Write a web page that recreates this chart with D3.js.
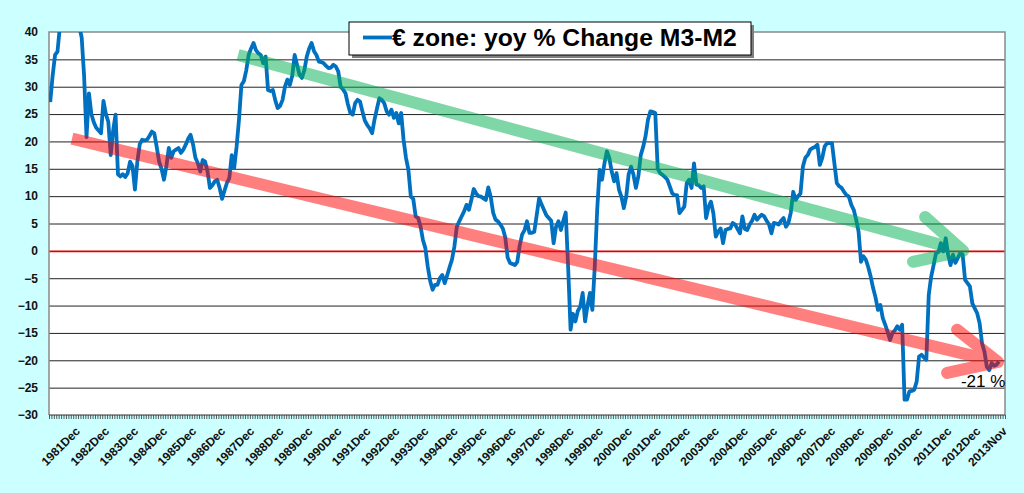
<!DOCTYPE html>
<html><head><meta charset="utf-8">
<script src="https://cdn.jsdelivr.net/npm/d3@7"></script>
<style>html,body{margin:0;padding:0;background:#ccffff;} svg{display:block;}</style>
</head><body>
<svg id="c" width="1024" height="493"></svg>
<script>
// ---------- DATA ----------
const monthNames = ["Jan","Feb","Mar","Apr","May","Jun","Jul","Aug","Sep","Oct","Nov","Dec"];
const firstYear = 1981, lastYear = 2013, lastMonth = 11; // 2013Nov
const categories = [];
for (let yy = firstYear; yy <= lastYear; yy++)
  for (let m = 1; m <= 12; m++)
    if (yy < lastYear || m <= lastMonth) categories.push(yy + monthNames[m-1]);

// yoy % change of M3-M2, monthly from 1981Jan
const values = [
 27.2, 32, 35.8, 36.4, 41, 44, 46, 47, 46, 47, 45, 43,
 41, 39, 32, 20.8, 28.8, 25, 23.5, 22.5, 22, 21.5, 27.4, 25,
 23.6, 17.5, 22, 24.9, 14, 13.6, 14, 13.5, 14.2, 16.3, 15.5, 11.2,
 16.3, 19.5, 20.3, 20.2, 20.3, 21, 21.8, 21.5, 19, 16.3, 15, 13,
 15.5, 18.8, 17, 18.2, 18.5, 18.8, 17.9, 18.5, 19.4, 20.5, 21.2, 19.5,
 17, 16, 14.5, 16.6, 16.3, 14.5, 11.5, 12, 12.7, 13, 11.5, 9.5,
 11, 12.4, 13.3, 17.5, 15.1, 19, 24, 30.3, 31, 33, 35.8, 37,
 38, 36.7, 36.1, 35.8, 34.3, 35.5, 29.4, 29.2, 29.4, 27.5, 26.1, 26.5,
 27.6, 30, 31.3, 30.3, 32, 35.8, 34, 32.2, 31.6, 33, 35.5, 37,
 38, 36.5, 35.8, 34.6, 34.5, 34.3, 33.8, 33.4, 33.5, 34, 33.7, 32.8,
 30, 29.5, 28.8, 26.8, 25.2, 24.9, 27, 27.6, 27.3, 25.5, 23.8, 23,
 22.4, 21.5, 24, 26, 27.9, 27.6, 27, 25.5, 24.9, 25.8, 24.3, 25.2,
 23.3, 25.2, 20.3, 17, 14.8, 9.9, 9.5, 6.3, 6, 4.5, 2, 0.5,
 -2.9, -5.5, -7.1, -6.2, -6.2, -5, -4.4, -5.9, -4.5, -3, -1.6, 0.8,
 4.4, 5.4, 6.3, 7.2, 8.4, 7.5, 9.3, 11.3, 10.5, 10, 9.9, 9.6,
 9.3, 11.6, 9.9, 7, 5.7, 5.4, 4.8, 4.1, 2.5, -1.2, -2.2, -2.4,
 -2.6, -2, 1, 3, 3.8, 5.4, 3.3, 3.3, 3.5, 6.5, 9.6, 8.5,
 7.5, 6.5, 6, 5.5, 1.4, 4.4, 5.4, 3.8, 5.5, 7, -3, -14.4,
 -11.5, -12.9, -11, -10.2, -7.7, -12.9, -10, -7.7, -10.8, -2.9, 7.5, 14.8,
 13, 16, 18.2, 17, 14.5, 12.7, 14.2, 11.2, 9.9, 7.8, 9.9, 14,
 15.4, 13.9, 11.5, 13.6, 17.5, 19, 21, 24, 25.5, 25.4, 25.2, 15,
 14.2, 13.9, 13.5, 13, 11.8, 10.5, 10.2, 10.2, 6.9, 7.5, 8.1, 12.4,
 13, 11.5, 16, 12.1, 12, 11.5, 11.8, 6, 8, 9, 6.9, 2.6,
 3.5, 4.1, 1.4, 3.8, 4, 4.1, 5.1, 4.8, 4, 3.2, 6.3, 4,
 3.8, 4.8, 5.5, 6.6, 5.7, 6.2, 6.6, 6.3, 5.5, 4.8, 3.2, 5.1,
 5, 4.8, 5.5, 6, 4.4, 5.1, 7, 10.8, 9.3, 10, 10.5, 15.4,
 17, 17.5, 18.5, 18.8, 19, 19.4, 15.7, 17, 19.1, 19.7, 19.7, 19.7,
 16, 12.4, 11.8, 11.5, 10.8, 10.2, 9.9, 8.4, 7.5, 5.7, 3.5, -2,
 -1, -1.6, -3, -4.7, -6.8, -8.5, -10.8, -9.9, -12.3, -13.5, -14.8, -16.3,
 -15, -14.5, -13.8, -14.4, -13.5, -27.2, -27.2, -25.7, -25.6, -25.4, -23.9, -19.3,
 -19, -19.5, -19.9, -8, -4.7, -2.6, -0.4, -0.2, 1.4, -0.1, 2.3, -0.7,
 -2.6, -0.7, -2.2, -1.3, -0.4, -0.7, -5.3, -5.9, -6.5, -9.6, -10.5, -11.4,
 -13.2, -16.9, -18.4, -21.2, -21.8, -20.5, -21, -20.8, -20.2
];

const yTicks = d3.range(-30, 41, 5);
const xTickLabels = categories.filter(c => c.endsWith("Dec")).concat([categories[categories.length-1]]);
const seriesName = "€ zone: yoy % Change M3-M2";
const endLabel = "-21 %";

// trend arrows in data units: [month index, value]
const greenShaft = [[77.6, 35.8], [377.2, 0]];
const greenHead  = [[361.5, 6.2], [377.2, 0], [356.5, -2]];
const redShaft   = [[9, 20.5], [391.6, -20.3]];
const redHead    = [[374.7, -14.4], [391.6, -20.3], [370.6, -22.3]];
const endLabelAt = [376.3, -24.9];

// ---------- CHART ----------
const W = 1024, H = 493;
const plot = {l: 49, r: 1005, t: 32, b: 415};
const font = "'Liberation Sans', Arial, sans-serif";
const svg = d3.select("#c");

svg.append("rect").attr("width", W).attr("height", H).attr("fill", "#ccffff");
svg.append("rect").attr("x", plot.l).attr("y", plot.t)
  .attr("width", plot.r - plot.l).attr("height", plot.b - plot.t).attr("fill", "#fff");

const x = d3.scaleBand().domain(categories).range([plot.l, plot.r]).padding(0);
const xi = d3.scaleLinear().domain([-0.5, categories.length - 0.5]).range([plot.l, plot.r]);
const y = d3.scaleLinear().domain([-30, 40]).range([plot.b, plot.t]);

// gridlines + y labels
const gy = svg.append("g").attr("transform", `translate(${plot.l},0)`)
  .call(d3.axisLeft(y).tickValues(yTicks).tickSize(-(plot.r - plot.l)).tickPadding(11).tickFormat(d3.format("d")));
gy.select(".domain").remove();
gy.selectAll(".tick line").attr("stroke", d => d === 0 ? "#e00000" : "#222")
  .attr("stroke-width", d => d === 0 ? 1.6 : 1)
  .attr("stroke-opacity", d => (d === 40 || d === -30) ? 0 : 1);
gy.selectAll(".tick text").attr("font-family", font).attr("font-weight", "bold")
  .attr("font-size", 12).attr("fill", "#111");

// monthly minor ticks
const gt = svg.append("g").attr("transform", `translate(0,${plot.b})`)
  .call(d3.axisBottom(xi).tickValues(d3.range(-0.5, categories.length, 1)).tickSize(4).tickFormat(""));
gt.select(".domain").remove();
gt.selectAll(".tick line").attr("stroke", "#333").attr("stroke-width", 0.8);

// x labels
const gx = svg.append("g").attr("transform", `translate(0,${plot.b})`)
  .call(d3.axisBottom(x).tickValues(xTickLabels).tickSize(0));
gx.select(".domain").remove();
gx.selectAll(".tick text").attr("font-family", font).attr("font-weight", "bold")
  .attr("font-size", 12).attr("fill", "#111")
  .attr("text-anchor", "end").attr("y", 0).attr("dy", 0)
  .attr("transform", "translate(4,17) rotate(-45)");

// plot frame
svg.append("path")
  .attr("d", `M${plot.l},${plot.b}V${plot.t}H${plot.r}V${plot.b}`)
  .attr("fill", "none").attr("stroke", "#8a8a8a").attr("stroke-width", 1.5);
svg.append("line").attr("x1", plot.l).attr("x2", plot.r).attr("y1", plot.b).attr("y2", plot.b)
  .attr("stroke", "#333").attr("stroke-width", 1);

// clip
svg.append("clipPath").attr("id", "clip").append("rect")
  .attr("x", plot.l).attr("y", plot.t).attr("width", plot.r - plot.l).attr("height", plot.b - plot.t);

// series line
const line = d3.line().x((d, i) => x(categories[i]) + x.bandwidth() / 2).y(d => y(d));
svg.append("path").datum(values).attr("clip-path", "url(#clip)")
  .attr("d", line).attr("fill", "none").attr("stroke", "#0070c0")
  .attr("stroke-width", 3.8).attr("stroke-linejoin", "round");

// trend arrows
const aLine = d3.line().x(d => xi(d[0])).y(d => y(d[1]));
function arrow(shaft, head, color) {
  const g = svg.append("g").attr("opacity", 0.5);
  g.append("path").attr("d", aLine(shaft)).attr("stroke", color).attr("stroke-width", 12)
    .attr("fill", "none").attr("stroke-linecap", "butt");
  g.append("path").attr("d", aLine(head)).attr("stroke", color).attr("stroke-width", 12)
    .attr("fill", "none").attr("stroke-linecap", "round").attr("stroke-linejoin", "round");
}
arrow(greenShaft, greenHead, "#00b050");
arrow(redShaft, redHead, "#ff0000");

// end label
svg.append("text").attr("x", xi(endLabelAt[0])).attr("y", y(endLabelAt[1]))
  .attr("font-family", font).attr("font-size", 17).attr("fill", "#000").text(endLabel);

// legend
const lg = svg.append("g");
lg.append("rect").attr("x", 352).attr("y", 25).attr("width", 402).attr("height", 33).attr("fill", "#7f7f7f");
lg.append("rect").attr("x", 349).attr("y", 22).attr("width", 402).attr("height", 33)
  .attr("fill", "#fff").attr("stroke", "#000").attr("stroke-width", 1);
lg.append("line").attr("x1", 363).attr("x2", 392).attr("y1", 37.5).attr("y2", 37.5)
  .attr("stroke", "#0070c0").attr("stroke-width", 3.8);
const lt = lg.append("text").attr("x", 392).attr("y", 45.5).attr("font-family", font)
  .attr("font-weight", "bold").attr("font-size", 21).attr("fill", "#000").text(seriesName);
const len = lt.node().getComputedTextLength();
lt.attr("font-size", 21 * 345 / len);
</script>
</body></html>
